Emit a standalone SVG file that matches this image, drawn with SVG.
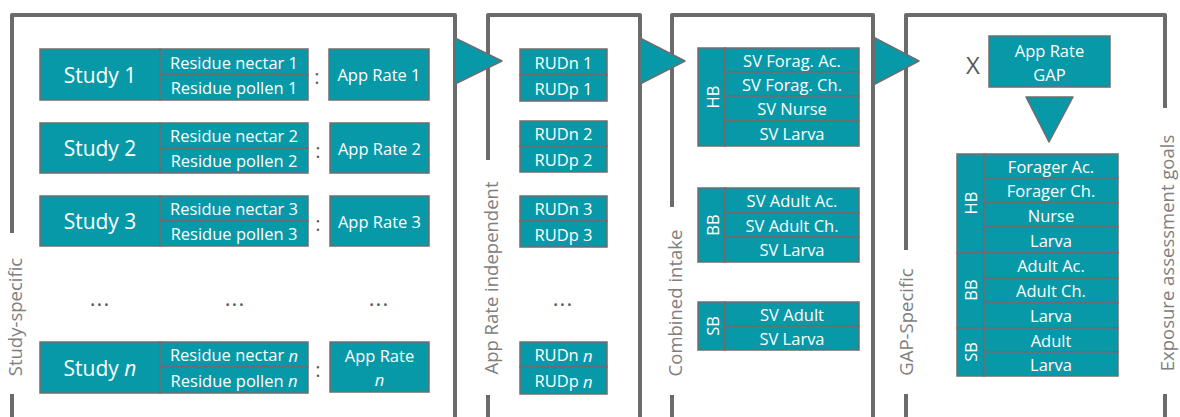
<svg xmlns="http://www.w3.org/2000/svg" width="1180" height="417" viewBox="0 0 1180 417">
<defs>
<style>
.frame{fill:none;stroke:#6b6b6b;stroke-width:4;stroke-linejoin:round}
.box{fill:#0899A8;stroke:#6d6d6d;stroke-width:1.5}
.tri{fill:#0899A8;stroke:#6d6d6d;stroke-width:1.5;stroke-linejoin:round}
text{font-family:"Open Sans","Noto Sans","DejaVu Sans",sans-serif}
.t{fill:#ffffff;font-size:16.5px;text-anchor:middle;dominant-baseline:central}
.big{font-size:21px}
.side{fill:#808080;font-size:18.5px;text-anchor:middle;dominant-baseline:central}
.dots{fill:#595959;font-size:22px;text-anchor:middle;dominant-baseline:central;letter-spacing:1px}
.col{fill:#595959;font-size:20px;text-anchor:middle;dominant-baseline:central}
</style>
</defs>
<rect width="1180" height="417" fill="#ffffff"/>

<g id="frames">
<path class="frame" d="M12,233 V15 H455 V417 M12,394 V417"/>
<path class="frame" d="M488,160 V15 H640 V417 M488,395 V417"/>
<path class="frame" d="M672,207 V15 H873 V417 M672,395 V417"/>
<path class="frame" d="M906,250 V15 H1165 V108 M906,394 V417 M1165,394 V417"/>
<text class="side" transform="translate(14,317) rotate(-90)">Study-specific</text>
<text class="side" transform="translate(490,278) rotate(-90)">App Rate independent</text>
<text class="side" transform="translate(674,303) rotate(-90)">Combined intake</text>
<text class="side" transform="translate(905,322) rotate(-90)">GAP-Specific</text>
<text class="side" transform="translate(1166,253) rotate(-90)">Exposure assessment goals</text>
</g>

<g id="connectors">
<polygon class="tri" points="455,38 502,61 455,84"/>
<polygon class="tri" points="640,38 685,61 640,84"/>
<polygon class="tri" points="875,38 919,61 875,84"/>
<polygon class="tri" points="1026,97 1073,97 1049,142"/>
</g>

<g id="study1">
<rect class="box" x="40" y="49" width="120" height="51"/>
<rect class="box" x="160" y="49" width="148" height="26"/>
<rect class="box" x="160" y="75" width="148" height="25"/>
<rect class="box" x="329" y="49" width="100" height="51"/>
<text class="t big" x="100" y="74.5">Study 1</text>
<text class="t" x="234" y="62">Residue nectar 1</text>
<text class="t" x="234" y="87.5">Residue pollen 1</text>
<text class="col" x="317" y="76">:</text>
<text class="t" x="379" y="74.5">App Rate 1</text>
</g>

<g id="study2">
<rect class="box" x="40" y="123" width="120" height="50"/>
<rect class="box" x="160" y="123" width="148" height="25"/>
<rect class="box" x="160" y="148" width="148" height="25"/>
<rect class="box" x="330" y="123" width="99" height="50"/>
<text class="t big" x="100" y="148">Study 2</text>
<text class="t" x="234" y="135.5">Residue nectar 2</text>
<text class="t" x="234" y="160.5">Residue pollen 2</text>
<text class="col" x="318" y="150">:</text>
<text class="t" x="379.5" y="148">App Rate 2</text>
</g>

<g id="study3">
<rect class="box" x="40" y="196" width="120" height="50"/>
<rect class="box" x="160" y="196" width="148" height="25"/>
<rect class="box" x="160" y="221" width="148" height="25"/>
<rect class="box" x="330" y="196" width="99" height="50"/>
<text class="t big" x="100" y="221">Study 3</text>
<text class="t" x="234" y="208.5">Residue nectar 3</text>
<text class="t" x="234" y="233.5">Residue pollen 3</text>
<text class="col" x="318" y="223">:</text>
<text class="t" x="379.5" y="221">App Rate 3</text>
</g>

<g id="ellipsis1">
<text class="dots" x="100" y="297">...</text>
<text class="dots" x="235" y="297">...</text>
<text class="dots" x="379" y="297">...</text>
</g>

<g id="studyn">
<rect class="box" x="40" y="342" width="120" height="51"/>
<rect class="box" x="160" y="342" width="148" height="25"/>
<rect class="box" x="160" y="367" width="148" height="26"/>
<rect class="box" x="330" y="342" width="99" height="50"/>
<text class="t big" x="100" y="367.5">Study <tspan font-style="italic">n</tspan></text>
<text class="t" x="234" y="354.5">Residue nectar <tspan font-style="italic">n</tspan></text>
<text class="t" x="234" y="380">Residue pollen <tspan font-style="italic">n</tspan></text>
<text class="col" x="318" y="369">:</text>
<text class="t" x="379.5" y="355">App Rate</text>
<text class="t" x="379.5" y="379" font-style="italic">n</text>
</g>

<g id="rud1">
<rect class="box" x="520" y="49" width="87" height="26"/>
<rect class="box" x="520" y="75" width="87" height="26"/>
<text class="t" x="563.5" y="62">RUDn 1</text>
<text class="t" x="563.5" y="88">RUDp 1</text>
</g>
<g id="rud2">
<rect class="box" x="520" y="121" width="87" height="25"/>
<rect class="box" x="520" y="146" width="87" height="26"/>
<text class="t" x="563.5" y="133.5">RUDn 2</text>
<text class="t" x="563.5" y="159">RUDp 2</text>
</g>
<g id="rud3">
<rect class="box" x="520" y="196" width="87" height="25"/>
<rect class="box" x="520" y="221" width="87" height="26"/>
<text class="t" x="563.5" y="208.5">RUDn 3</text>
<text class="t" x="563.5" y="234">RUDp 3</text>
</g>
<g id="ellipsis2">
<text class="dots" x="563" y="297">...</text>
</g>
<g id="rudn">
<rect class="box" x="520" y="342" width="87" height="25"/>
<rect class="box" x="520" y="367" width="87" height="27"/>
<text class="t" x="563.5" y="354.5">RUDn <tspan font-style="italic">n</tspan></text>
<text class="t" x="563.5" y="380.5">RUDp <tspan font-style="italic">n</tspan></text>
</g>

<g id="sv-hb">
<rect class="box" x="698" y="48" width="27" height="98"/>
<rect class="box" x="725" y="48" width="134" height="24"/>
<rect class="box" x="725" y="72" width="134" height="24"/>
<rect class="box" x="725" y="96" width="134" height="25"/>
<rect class="box" x="725" y="121" width="134" height="25"/>
<text class="t" transform="translate(712,97) rotate(-90)">HB</text>
<text class="t" x="792" y="60">SV Forag. Ac.</text>
<text class="t" x="792" y="84">SV Forag. Ch.</text>
<text class="t" x="792" y="108.5">SV Nurse</text>
<text class="t" x="792" y="133.5">SV Larva</text>
</g>
<g id="sv-bb">
<rect class="box" x="698" y="188" width="27" height="74"/>
<rect class="box" x="725" y="188" width="134" height="25"/>
<rect class="box" x="725" y="213" width="134" height="24"/>
<rect class="box" x="725" y="237" width="134" height="25"/>
<text class="t" transform="translate(712,225) rotate(-90)">BB</text>
<text class="t" x="792" y="200.5">SV Adult Ac.</text>
<text class="t" x="792" y="225">SV Adult Ch.</text>
<text class="t" x="792" y="249.5">SV Larva</text>
</g>
<g id="sv-sb">
<rect class="box" x="698" y="302" width="27" height="48"/>
<rect class="box" x="725" y="302" width="134" height="24"/>
<rect class="box" x="725" y="326" width="134" height="24"/>
<text class="t" transform="translate(712,326) rotate(-90)">SB</text>
<text class="t" x="792" y="314">SV Adult</text>
<text class="t" x="792" y="338">SV Larva</text>
</g>

<g id="apprate-gap">
<text x="973" y="64" fill="#595959" font-size="24" text-anchor="middle" dominant-baseline="central">X</text>
<rect class="box" x="989" y="36" width="121" height="51"/>
<text class="t" x="1049.5" y="50">App Rate</text>
<text class="t" x="1049.5" y="74">GAP</text>
</g>

<g id="goals">
<rect class="box" x="957" y="154" width="27" height="99"/>
<rect class="box" x="957" y="253" width="27" height="75"/>
<rect class="box" x="957" y="328" width="27" height="48"/>
<rect class="box" x="984" y="154" width="134" height="24"/>
<rect class="box" x="984" y="178" width="134" height="25"/>
<rect class="box" x="984" y="203" width="134" height="24"/>
<rect class="box" x="984" y="227" width="134" height="26"/>
<rect class="box" x="984" y="253" width="134" height="25"/>
<rect class="box" x="984" y="278" width="134" height="25"/>
<rect class="box" x="984" y="303" width="134" height="25"/>
<rect class="box" x="984" y="328" width="134" height="24"/>
<rect class="box" x="984" y="352" width="134" height="24"/>
<text class="t" transform="translate(970.5,203) rotate(-90)">HB</text>
<text class="t" transform="translate(970.5,290) rotate(-90)">BB</text>
<text class="t" transform="translate(970.5,352) rotate(-90)">SB</text>
<text class="t" x="1051" y="166">Forager Ac.</text>
<text class="t" x="1051" y="190.5">Forager Ch.</text>
<text class="t" x="1051" y="215">Nurse</text>
<text class="t" x="1051" y="240">Larva</text>
<text class="t" x="1051" y="265.5">Adult Ac.</text>
<text class="t" x="1051" y="290.5">Adult Ch.</text>
<text class="t" x="1051" y="315.5">Larva</text>
<text class="t" x="1051" y="340">Adult</text>
<text class="t" x="1051" y="364">Larva</text>
</g>
</svg>
